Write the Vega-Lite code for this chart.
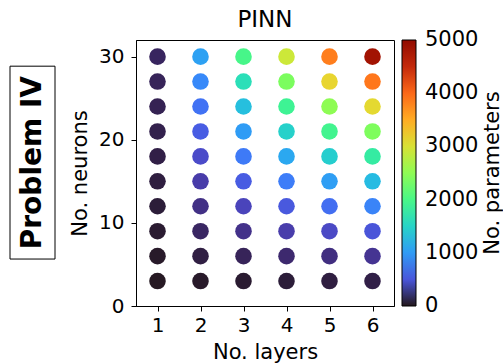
{
  "$schema": "https://vega.github.io/schema/vega-lite/v6.json",
  "padding": {"left": 9, "top": 8, "right": 0, "bottom": 0},
  "bounds": "flush",
  "spacing": 81,
  "resolve": {"scale": {"color": "independent"}, "legend": {"color": "independent"}},
  "config": {
    "font": "DejaVu Sans",
    "view": {"stroke": "black", "strokeWidth": 1},
    "axis": {"grid": false, "domainColor": "black", "tickColor": "black", "labelColor": "black", "titleColor": "black", "labelFontSize": 20, "titleFontSize": 21, "titleFontWeight": "normal", "tickSize": 5, "labelFont": "DejaVu Sans", "titleFont": "DejaVu Sans"},
    "legend": {"labelColor": "black", "titleColor": "black", "labelFont": "DejaVu Sans", "titleFont": "DejaVu Sans"}
  },
  "hconcat": [
    {
      "width": 45,
      "height": 266,
      "view": {"stroke": null},
      "layer": [
        {
          "data": {"values": [{"label": "Problem IV"}]},
          "mark": {"type": "rect", "fill": "white", "stroke": "black", "strokeWidth": 1},
          "encoding": {
            "x": {"datum": 0, "type": "quantitative", "scale": {"domain": [0, 1], "nice": false, "zero": false}, "axis": null},
            "x2": {"datum": 1},
            "y": {"datum": 5.65, "type": "quantitative", "scale": {"domain": [0, 32], "nice": false, "zero": false}, "axis": null},
            "y2": {"datum": 28.85}
          }
        },
        {
          "data": {"values": [{"label": "Problem IV"}]},
          "mark": {"type": "text", "angle": 270, "fontSize": 28, "fontWeight": "bold", "font": "DejaVu Sans", "align": "center", "baseline": "middle", "color": "black"},
          "encoding": {
            "x": {"datum": 0.5, "type": "quantitative"},
            "y": {"datum": 17.25, "type": "quantitative"},
            "text": {"field": "label"}
          }
        }
      ]
    },
    {
      "width": 258,
      "height": 266,
      "title": {"text": "PINN", "fontSize": 23, "fontWeight": "normal", "font": "DejaVu Sans", "color": "black", "offset": 8},
      "data": {"values": [
        {"layers": 1, "neurons": 3, "params": 13}, {"layers": 2, "neurons": 3, "params": 25}, {"layers": 3, "neurons": 3, "params": 37}, {"layers": 4, "neurons": 3, "params": 49}, {"layers": 5, "neurons": 3, "params": 61}, {"layers": 6, "neurons": 3, "params": 73},
        {"layers": 1, "neurons": 6, "params": 25}, {"layers": 2, "neurons": 6, "params": 67}, {"layers": 3, "neurons": 6, "params": 109}, {"layers": 4, "neurons": 6, "params": 151}, {"layers": 5, "neurons": 6, "params": 193}, {"layers": 6, "neurons": 6, "params": 235},
        {"layers": 1, "neurons": 9, "params": 37}, {"layers": 2, "neurons": 9, "params": 127}, {"layers": 3, "neurons": 9, "params": 217}, {"layers": 4, "neurons": 9, "params": 307}, {"layers": 5, "neurons": 9, "params": 397}, {"layers": 6, "neurons": 9, "params": 487},
        {"layers": 1, "neurons": 12, "params": 49}, {"layers": 2, "neurons": 12, "params": 205}, {"layers": 3, "neurons": 12, "params": 361}, {"layers": 4, "neurons": 12, "params": 517}, {"layers": 5, "neurons": 12, "params": 673}, {"layers": 6, "neurons": 12, "params": 829},
        {"layers": 1, "neurons": 15, "params": 61}, {"layers": 2, "neurons": 15, "params": 301}, {"layers": 3, "neurons": 15, "params": 541}, {"layers": 4, "neurons": 15, "params": 781}, {"layers": 5, "neurons": 15, "params": 1021}, {"layers": 6, "neurons": 15, "params": 1261},
        {"layers": 1, "neurons": 18, "params": 73}, {"layers": 2, "neurons": 18, "params": 415}, {"layers": 3, "neurons": 18, "params": 757}, {"layers": 4, "neurons": 18, "params": 1099}, {"layers": 5, "neurons": 18, "params": 1441}, {"layers": 6, "neurons": 18, "params": 1783},
        {"layers": 1, "neurons": 21, "params": 85}, {"layers": 2, "neurons": 21, "params": 547}, {"layers": 3, "neurons": 21, "params": 1009}, {"layers": 4, "neurons": 21, "params": 1471}, {"layers": 5, "neurons": 21, "params": 1933}, {"layers": 6, "neurons": 21, "params": 2395},
        {"layers": 1, "neurons": 24, "params": 97}, {"layers": 2, "neurons": 24, "params": 697}, {"layers": 3, "neurons": 24, "params": 1297}, {"layers": 4, "neurons": 24, "params": 1897}, {"layers": 5, "neurons": 24, "params": 2497}, {"layers": 6, "neurons": 24, "params": 3097},
        {"layers": 1, "neurons": 27, "params": 109}, {"layers": 2, "neurons": 27, "params": 865}, {"layers": 3, "neurons": 27, "params": 1621}, {"layers": 4, "neurons": 27, "params": 2377}, {"layers": 5, "neurons": 27, "params": 3133}, {"layers": 6, "neurons": 27, "params": 3889},
        {"layers": 1, "neurons": 30, "params": 121}, {"layers": 2, "neurons": 30, "params": 1051}, {"layers": 3, "neurons": 30, "params": 1981}, {"layers": 4, "neurons": 30, "params": 2911}, {"layers": 5, "neurons": 30, "params": 3841}, {"layers": 6, "neurons": 30, "params": 4771}
      ]},
      "mark": {"type": "circle", "size": 275, "opacity": 1},
      "encoding": {
        "x": {"field": "layers", "type": "quantitative", "scale": {"domain": [0.5, 6.5], "nice": false, "zero": false}, "axis": {"values": [1, 2, 3, 4, 5, 6], "title": "No. layers", "format": "d", "labelPadding": 4, "titlePadding": 6}},
        "y": {"field": "neurons", "type": "quantitative", "scale": {"domain": [0, 32], "nice": false}, "axis": {"values": [0, 10, 20, 30], "title": "No. neurons", "labelPadding": 7, "titlePadding": 8}},
        "color": {"field": "params", "type": "quantitative", "scale": {"scheme": "turbo", "domain": [-1, 5001], "nice": false, "zero": false}, "legend": {"title": null, "format": "d", "gradientLength": 266, "gradientThickness": 14, "values": [0, 1000, 2000, 3000, 4000, 5000], "labelFontSize": 21, "labelOffset": 9, "offset": 8, "gradientStrokeColor": "black", "gradientStrokeWidth": 1, "labelOverlap": false, "encode": {"labels": {"baseline": {"value": "middle"}}}}}
      }
    },
    {
      "width": 35,
      "height": 266,
      "view": {"stroke": null},
      "data": {"values": [{"label": "No. parameters"}]},
      "mark": {"type": "text", "angle": 270, "fontSize": 21, "font": "DejaVu Sans", "align": "center", "baseline": "middle", "color": "black"},
      "encoding": {"text": {"field": "label"}}
    }
  ]
}
